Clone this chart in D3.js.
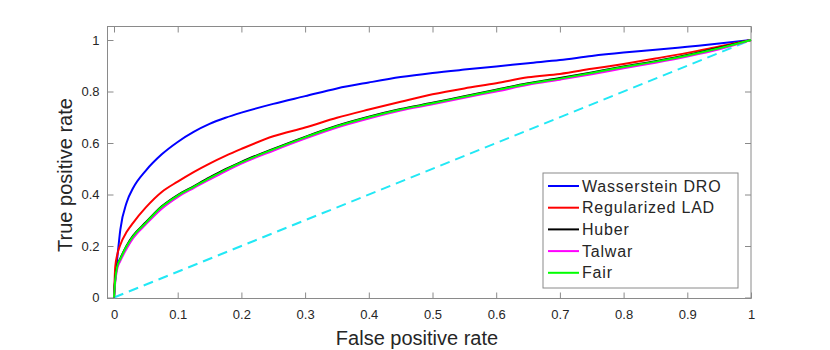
<!DOCTYPE html>
<html>
<head>
<meta charset="utf-8">
<script src="https://cdn.jsdelivr.net/npm/d3@7"></script>
<style>
  body { margin: 0; background: #fff; }
  text { font-family: "Liberation Sans", Arial, sans-serif; fill: #262626; }
</style>
</head>
<body>
<div id="chart"></div>
<script>
// false positive rate grid shared by every curve
var fpr = [0, 0.002, 0.005, 0.01, 0.02, 0.03, 0.05, 0.075, 0.1, 0.125, 0.15, 0.175, 0.2, 0.25, 0.3,
  0.35, 0.4, 0.45, 0.5, 0.55, 0.6, 0.65, 0.7, 0.75, 0.8, 0.85, 0.9, 0.95, 1];

var tprWasserstein = [0, 0.08, 0.15, 0.265, 0.37, 0.425, 0.493, 0.556, 0.604, 0.643, 0.674, 0.698, 0.718, 0.752, 0.782,
  0.812, 0.835, 0.856, 0.872, 0.885, 0.897, 0.91, 0.922, 0.938, 0.951, 0.962, 0.974, 0.986, 1];
var tprLAD = [0, 0.12, 0.165, 0.205, 0.255, 0.29, 0.35, 0.41, 0.45, 0.487, 0.52, 0.55, 0.577, 0.626, 0.66,
  0.698, 0.73, 0.76, 0.789, 0.812, 0.832, 0.855, 0.868, 0.888, 0.907, 0.928, 0.95, 0.975, 1];
var tprHuber = [0, 0.072, 0.122, 0.152, 0.202, 0.24, 0.292, 0.354, 0.398, 0.432, 0.466, 0.498, 0.527, 0.577, 0.624,
  0.667, 0.702, 0.732, 0.756, 0.782, 0.807, 0.832, 0.852, 0.874, 0.897, 0.918, 0.942, 0.97, 1];
var tprTalwar = [0, 0.06, 0.11, 0.142, 0.19, 0.23, 0.284, 0.345, 0.39, 0.425, 0.458, 0.49, 0.52, 0.57, 0.617,
  0.66, 0.695, 0.726, 0.75, 0.776, 0.8, 0.826, 0.846, 0.867, 0.89, 0.912, 0.936, 0.964, 1];
var tprFair = [0, 0.07, 0.12, 0.15, 0.2, 0.238, 0.29, 0.352, 0.396, 0.43, 0.464, 0.496, 0.525, 0.575, 0.622,
  0.665, 0.7, 0.73, 0.754, 0.78, 0.805, 0.83, 0.85, 0.872, 0.895, 0.916, 0.94, 0.968, 1];

var seriesNames = ["Wasserstein DRO", "Regularized LAD", "Huber", "Talwar", "Fair"];
var seriesValues = [tprWasserstein, tprLAD, tprHuber, tprTalwar, tprFair];
var seriesColors = ["#0000ff", "#ff0000", "#000000", "#ff00ff", "#00ff00"];

var xTicks = [0, 0.1, 0.2, 0.3, 0.4, 0.5, 0.6, 0.7, 0.8, 0.9, 1];
var yTicks = [0, 0.2, 0.4, 0.6, 0.8, 1];

var width = 830, height = 350;
var box = { left: 107.5, right: 751, top: 26.5, bottom: 298.5 };

var svg = d3.select("#chart").append("svg")
  .attr("width", width)
  .attr("height", height);

var x = d3.scaleLinear().domain([0, 1]).range([114, 751]);
var y = d3.scaleLinear().domain([0, 1]).range([297.5, 40]);

var axisColor = "#8a8a8a";
var tickLen = 6;
var tickFmt = function(d) { return d === 0 || d === 1 ? d3.format("d")(d) : d3.format(".1f")(d); };

// plot box
svg.append("rect")
  .attr("x", box.left)
  .attr("y", box.top)
  .attr("width", box.right - box.left)
  .attr("height", box.bottom - box.top)
  .attr("fill", "#fff")
  .attr("stroke", axisColor)
  .attr("stroke-width", 1);

// axes with inward ticks (bottom + top, left + right)
var gx = svg.append("g").attr("transform", "translate(0," + box.bottom + ")")
  .call(d3.axisBottom(x).tickValues(xTicks).tickSizeInner(-tickLen).tickSizeOuter(0).tickPadding(11)
    .tickFormat(tickFmt));
gx.select(".domain").remove();
gx.selectAll("line").attr("stroke", axisColor);
gx.selectAll("text").style("font-size", "13px").attr("fill", "#262626");

var gxTop = svg.append("g").attr("transform", "translate(0," + box.top + ")")
  .call(d3.axisTop(x).tickValues(xTicks).tickSizeInner(-tickLen).tickSizeOuter(0).tickFormat(""));
gxTop.select(".domain").remove();
gxTop.selectAll("line").attr("stroke", axisColor);

var gy = svg.append("g").attr("transform", "translate(" + box.left + ",0)")
  .call(d3.axisLeft(y).tickValues(yTicks).tickSizeInner(-tickLen).tickSizeOuter(0).tickPadding(8)
    .tickFormat(tickFmt));
gy.select(".domain").remove();
gy.selectAll("line").attr("stroke", axisColor);
gy.selectAll("text").style("font-size", "13px").attr("fill", "#262626");

var gyRight = svg.append("g").attr("transform", "translate(" + box.right + ",0)")
  .call(d3.axisRight(y).tickValues(yTicks).tickSizeInner(-tickLen).tickSizeOuter(0).tickFormat(""));
gyRight.select(".domain").remove();
gyRight.selectAll("line").attr("stroke", axisColor);

// chance diagonal
svg.append("line")
  .attr("x1", x(0)).attr("y1", y(0))
  .attr("x2", x(1)).attr("y2", y(1))
  .attr("stroke", "#22e8f5")
  .attr("stroke-width", 2)
  .attr("stroke-dasharray", "10,6");

var line = d3.line()
  .x(function(d) { return x(d[0]); })
  .y(function(d) { return y(d[1]); })
  .curve(d3.curveMonotoneX);

seriesValues.forEach(function(vals, i) {
  svg.append("path")
    .datum(fpr.map(function(f, j) { return [f, vals[j]]; }))
    .attr("d", line)
    .attr("fill", "none")
    .attr("stroke", seriesColors[i])
    .attr("stroke-width", 2)
    .attr("stroke-linejoin", "round");
});

// axis labels
svg.append("text")
  .attr("x", 417).attr("y", 345)
  .attr("text-anchor", "middle")
  .style("font-size", "20px")
  .text("False positive rate");

svg.append("text")
  .attr("transform", "translate(72,175) rotate(-90)")
  .attr("text-anchor", "middle")
  .style("font-size", "20px")
  .text("True positive rate");

// legend
var legend = svg.append("g");
legend.append("rect")
  .attr("x", 543).attr("y", 173)
  .attr("width", 195).attr("height", 115)
  .attr("fill", "#fff")
  .attr("stroke", axisColor);

seriesNames.forEach(function(name, i) {
  var ly = 186 + i * 21.7;
  legend.append("line")
    .attr("x1", 548).attr("x2", 579)
    .attr("y1", ly).attr("y2", ly)
    .attr("stroke", seriesColors[i])
    .attr("stroke-width", 2);
  legend.append("text")
    .attr("x", 582).attr("y", ly)
    .attr("dy", "0.35em")
    .style("font-size", "16px")
    .style("letter-spacing", "0.8px")
    .attr("fill", "#000")
    .text(name);
});
</script>
</body>
</html>
